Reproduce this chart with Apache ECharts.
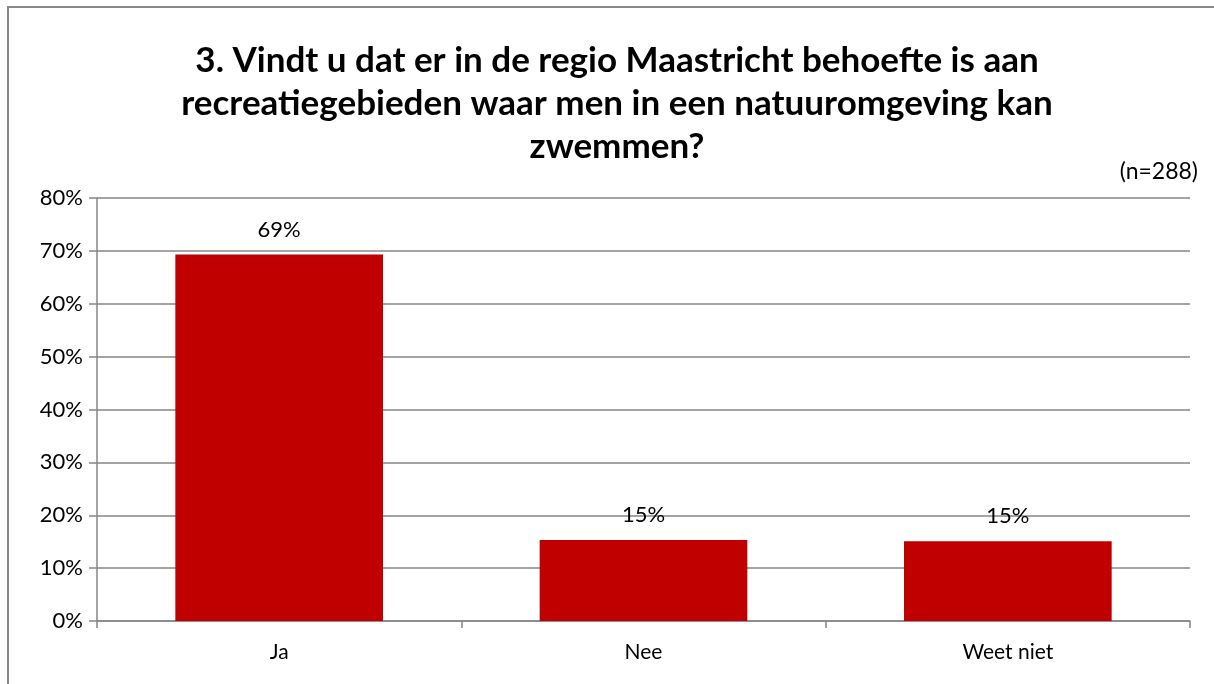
<!DOCTYPE html>
<html>
<head>
<meta charset="utf-8">
<script src="https://cdn.jsdelivr.net/npm/echarts@6/dist/echarts.min.js"></script>
<style>
  html, body { margin: 0; padding: 0; background: #fff; }
  #chart { width: 1214px; height: 684px; }
</style>
</head>
<body>
<div id="chart"></div>
<script>
// data
var categories = ["Ja", "Nee", "Weet niet"];
var values = [69.3, 15.3, 15.1];
var yTicks = [0, 10, 20, 30, 40, 50, 60, 70, 80];

var chart = echarts.init(document.getElementById("chart"));
var font = "Lato, 'Open Sans', sans-serif";

chart.setOption({
  animation: false,
  backgroundColor: "#fff",
  title: {
    text: "3. Vindt u dat er in de regio Maastricht behoefte is aan\nrecreatiegebieden waar men in een natuuromgeving kan\nzwemmen?",
    left: 612,
    top: 34,
    textAlign: "center",
    textStyle: {
      fontFamily: font,
      fontSize: 35,
      fontWeight: "bold",
      color: "#000",
      lineHeight: 43
    }
  },
  graphic: [
    {
      type: "rect",
      shape: { x: 8, y: 7, width: 1230, height: 700 },
      style: { fill: "none", stroke: "#888", lineWidth: 2 },
      silent: true
    },
    {
      type: "text",
      right: 16,
      top: 160,
      style: { text: "(n=288)", font: "23px " + font, fill: "#000" }
    }
  ],
  grid: { left: 97, right: 24, top: 198, bottom: 63 },
  xAxis: {
    type: "category",
    data: categories,
    axisLine: { lineStyle: { color: "#868686", width: 1.5 } },
    axisTick: { show: true, length: 7, lineStyle: { color: "#868686", width: 1.5 } },
    axisLabel: { fontFamily: font, fontSize: 21, color: "#000", margin: 21 }
  },
  yAxis: {
    type: "value",
    min: yTicks[0],
    max: yTicks[yTicks.length - 1],
    interval: 10,
    axisLine: { show: true, lineStyle: { color: "#868686", width: 1.5 } },
    axisTick: { show: true, length: 8, lineStyle: { color: "#868686", width: 1.5 } },
    axisLabel: {
      fontFamily: font, fontSize: 22, color: "#000", margin: 14,
      formatter: function (v) { return v + "%"; }
    },
    splitLine: { lineStyle: { color: "#868686", width: 1.5 } }
  },
  series: [{
    type: "bar",
    data: values,
    barWidth: "57%",
    itemStyle: { color: "#c00000" },
    label: {
      show: true,
      position: "top",
      distance: 14,
      fontFamily: font,
      fontSize: 22,
      color: "#000",
      formatter: function (p) { return Math.round(p.value) + "%"; }
    }
  }]
});
</script>
</body>
</html>
